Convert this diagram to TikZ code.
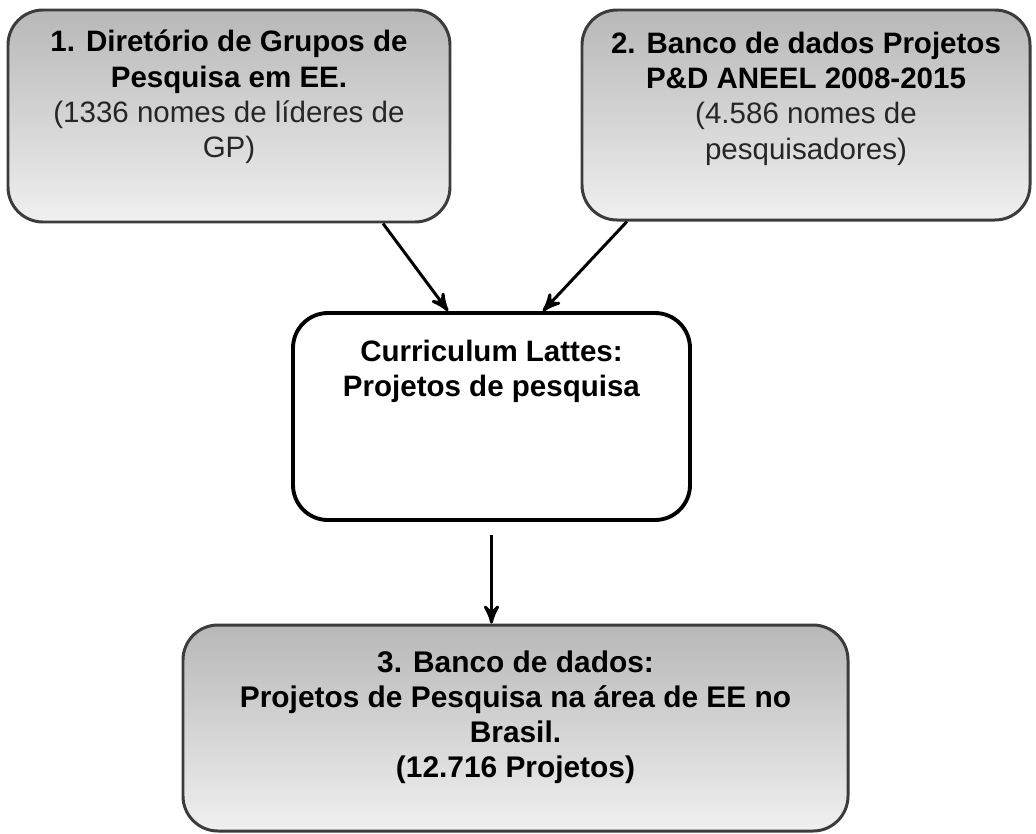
\documentclass[tikz,border=0pt]{standalone}
\usepackage{fontspec}
\setmainfont{Liberation Sans}
\usepackage{tikz}
\usetikzlibrary{arrows,shapes}
\definecolor{boxline}{HTML}{3C3C3C}
\definecolor{softtext}{HTML}{262626}
\newcommand{\softline}[1]{{\color{softtext}#1}}

\begin{document}
\begin{tikzpicture}[>=stealth',auto]

	\tikzstyle{source}=[rectangle,rounded corners=3.5mm,draw=boxline,line width=0.85pt,top color=black!28,bottom color=black!6,inner sep=0pt]
	\tikzstyle{lattes}=[rectangle,rounded corners=3.5mm,draw=black,line width=1.1pt,fill=white,inner sep=0pt]
	\tikzstyle{caption}=[align=center,inner sep=0pt,anchor=north,font=\fontsize{8.4}{10}\selectfont]
	\tikzstyle{flow}=[->,line width=0.85pt]

	\useasboundingbox (0,0) rectangle (10.36,8.33);

	% the three boxes that feed / come out of Lattes
	\node [source,minimum width=4.42cm,minimum height=2.12cm] (dgp) at (2.29,7.17) {};
	\node [source,minimum width=4.48cm,minimum height=2.10cm] (aneel) at (8.06,7.18) {};
	\node [lattes,minimum width=3.97cm,minimum height=2.07cm] (lattes) at (4.915,4.165) {};
	\node [source,minimum width=6.65cm,minimum height=2.06cm] (result) at (5.155,1.05) {};

	\node [caption] (dgptxt) at ([yshift=-0.21cm]dgp.north)
		{\textbf{1. Diretório de Grupos de}\\\textbf{Pesquisa em EE.}\\\softline{(1336 nomes de líderes de}\\\softline{GP)}};
	\node [caption] (aneeltxt) at ([yshift=-0.23cm]aneel.north)
		{\textbf{2. Banco de dados Projetos}\\\textbf{P\&D ANEEL 2008-2015}\\\softline{(4.586 nomes de}\\\softline{pesquisadores)}};
	\node [caption] (lattestxt) at ([yshift=-0.28cm]lattes.north)
		{\textbf{Curriculum Lattes:}\\\textbf{Projetos de pesquisa}};
	\node [caption,font=\bfseries\fontsize{8.5}{9.9}\selectfont] (resulttxt) at ([yshift=-0.27cm]result.north)
		{3. Banco de dados:\\Projetos de Pesquisa na área de EE no\\Brasil.\\(12.716 Projetos)};

	\draw [flow] ([xshift=1.54cm]dgp.south) -- ([xshift=-0.435cm]lattes.north);
	\draw [flow] ([xshift=-1.79cm]aneel.south) -- ([xshift=0.515cm]lattes.north);
	\draw [flow] ([yshift=-0.13cm]lattes.south) -- (lattes.south |- result.north);

\end{tikzpicture}
\end{document}
